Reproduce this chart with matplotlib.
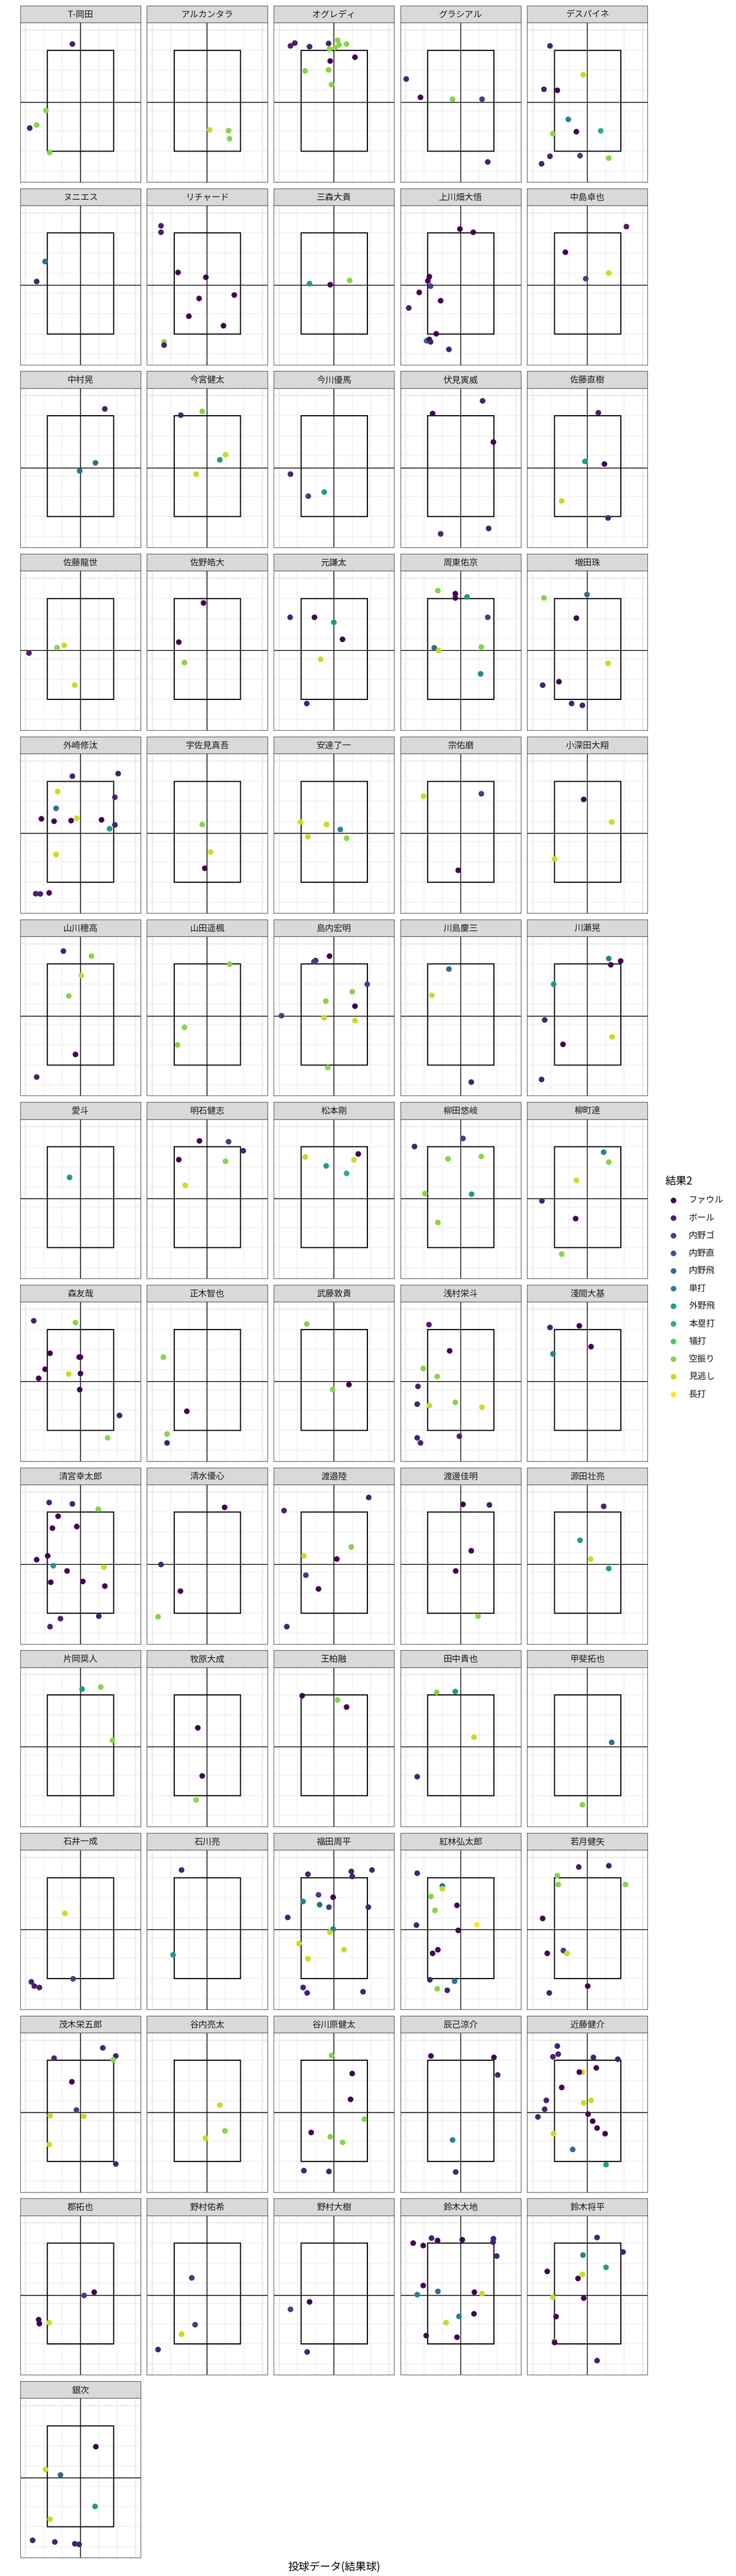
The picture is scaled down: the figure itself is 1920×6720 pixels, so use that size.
#!/usr/bin/env python3

import matplotlib
matplotlib.use('Agg')
import matplotlib.pyplot as plt
from matplotlib.patches import Rectangle
import numpy as np

plt.rcParams['font.family'] = ['Noto Sans CJK JP', 'DejaVu Sans']

# result categories (index used in pitch_res)
result_levels = ['ファウル', 'ボール', '内野ゴ', '内野直', '内野飛', '単打',
                 '外野飛', '本塁打', '犠打', '空振り', '見逃し', '長打']

players = [
  'T-岡田', 'アルカンタラ', 'オグレディ', 'グラシアル', 'デスパイネ',
  'ヌニエス', 'リチャード', '三森大貴', '上川畑大悟', '中島卓也',
  '中村晃', '今宮健太', '今川優馬', '伏見寅威', '佐藤直樹',
  '佐藤龍世', '佐野皓大', '元謙太', '周東佑京', '増田珠',
  '外崎修汰', '宇佐見真吾', '安達了一', '宗佑磨', '小深田大翔',
  '山川穂高', '山田遥楓', '島内宏明', '川島慶三', '川瀬晃',
  '愛斗', '明石健志', '松本剛', '柳田悠岐', '柳町達',
  '森友哉', '正木智也', '武藤敦貴', '浅村栄斗', '淺間大基',
  '清宮幸太郎', '清水優心', '渡邉陸', '渡邊佳明', '源田壮亮',
  '片岡奨人', '牧原大成', '王柏融', '田中貴也', '甲斐拓也',
  '石井一成', '石川亮', '福田周平', '紅林弘太郎', '若月健矢',
  '茂木栄五郎', '谷内亮太', '谷川原健太', '辰己涼介', '近藤健介',
  '郡拓也', '野村佑希', '野村大樹', '鈴木大地', '鈴木将平',
  '銀次',
]

# horizontal location of the final pitch, one list per player
pitch_x = [
  [-0.44, -1.88, -2.39, -2.77, -1.68],
  [0.13, 1.17, 1.22],
  [-2.37, -2.13, -1.33, -0.29, 0.20, 0.29, 0.69, -0.24, 0.07, 1.15, -0.20, -1.57, -0.29, -0.13],
  [-2.97, -2.19, -0.44, 1.17, 1.48],
  [-2.04, -0.22, -2.37, -1.64, -1.04, -0.60, -1.88, 0.73, -2.04, -0.40, -2.50, 1.17],
  [-1.93, -2.39],
  [-2.52, -2.52, -1.59, -0.07, -0.44, 1.48, -1.00, 0.89, -2.35, -2.35],
  [-1.33, -0.20, 0.86],
  [-0.04, 0.69, -1.71, -1.79, -1.64, -2.26, -1.09, -2.83, -1.33, -1.86, -1.71, -1.64, -0.64],
  [2.13, -1.20, 1.17, -0.09],
  [1.33, 0.82, -0.04],
  [-1.44, -0.27, 1.00, 0.69, -0.60],
  [-2.37, -1.40, -0.53],
  [1.20, -1.53, 1.79, -1.09, 1.53],
  [0.60, -0.13, 0.93, -1.40, 1.13],
  [-2.81, -1.28, -0.89, -0.31],
  [-0.20, -1.55, -1.24],
  [-2.39, -1.06, 0.00, 0.47, -0.73, -1.48],
  [-1.24, -0.29, -0.29, 0.35, 1.48, -1.44, -1.20, 1.13, 1.09],
  [-2.37, -0.02, -0.60, 1.13, -2.44, -1.55, -0.86, -0.27],
  [-0.44, 2.06, -1.24, 1.88, -1.33, -2.13, -1.44, -0.51, -0.20, 1.15, 1.88, 1.59, -1.33, -2.44, -2.19, -1.71],
  [-0.27, 0.18, -0.13],
  [-1.82, -0.40, 0.35, -1.42, 0.69],
  [-2.02, 1.13, -0.13],
  [-0.20, 1.33, -1.79],
  [-0.93, 0.60, 0.04, -0.64, -0.27, -2.39],
  [1.22, -1.24, -1.62],
  [-0.24, -1.00, -1.09, 1.82, 1.00, -0.44, 1.15, -2.86, -0.53, 1.15, -0.33],
  [-0.64, -1.57, 0.58],
  [1.17, 1.82, 1.28, -1.84, -2.33, 1.35, -1.33, -2.50],
  [-0.60],
  [-0.42, 1.17, 1.97, -1.55, 1.00, -1.20],
  [-1.57, 1.33, 1.09, -0.42, 0.69],
  [-2.52, 0.13, -0.69, 1.13, -1.95, 0.60, -1.24],
  [0.89, 1.17, -0.60, -2.48, -0.64, -1.40],
  [-2.55, -0.27, -1.66, 0.00, -0.07, -1.93, -0.64, 0.00, -2.28, -0.04, 2.13, 1.48],
  [-2.39, -1.11, -2.19, -2.19],
  [-1.48, -0.07, 0.82],
  [-1.73, -0.60, -2.04, -1.28, -2.33, -2.37, -1.71, -0.29, 1.17, -2.37, -2.19, -0.07],
  [-2.04, -0.44, 0.20, -1.88],
  [-1.71, -0.44, 0.97, -1.22, -1.53, -0.20, -1.79, -2.39, -1.48, 1.28, -0.73, -1.62, 0.13, 1.33, 1.00, -1.09, -1.66],
  [0.95, -2.52, -1.46, -2.68],
  [1.90, -2.72, 0.95, -1.64, 0.16, -1.53, -0.84, -2.57],
  [0.13, 1.57, 0.58, -0.27, 0.95],
  [0.89, -0.40, 0.18, 1.17],
  [0.09, 1.11, 1.75],
  [-0.51, -0.27, -0.60],
  [-1.73, 0.20, 0.69],
  [-1.31, -0.29, 0.73, -2.37],
  [1.33, -0.27],
  [-0.84, -0.40, -2.68, -2.52, -2.24],
  [-1.40, -1.86],
  [-1.42, 0.95, 2.08, 1.00, -0.84, -0.04, -1.68, -0.78, -0.27, 1.88, -2.52, -0.04, -0.22, -1.90, 0.55, -1.42, -1.68, -1.46, 1.59],
  [-2.37, -1.00, -1.00, -1.62, -1.40, -0.20, -2.41, 0.89, -0.13, -1.53, -1.24, -1.68, -0.33, -1.28, -0.73],
  [-0.47, 1.17, -1.64, -1.59, 2.08, -2.44, -2.19, -1.31, -1.11, 0.02, -2.08],
  [-1.44, 1.22, 1.93, 1.79, -0.47, -0.22, -1.66, 0.18, -1.71, 1.93],
  [0.69, 0.97, -0.09],
  [-0.13, 1.00, 0.91, 1.66, -1.24, -0.20, 0.47, -1.64, -0.27],
  [-1.62, 1.82, 2.02, -0.44, -0.27],
  [-1.64, -1.59, -1.88, 0.33, 1.66, 0.49, -0.27, -0.44, -1.40, -2.24, 0.20, -0.20, -2.33, -2.70, 0.04, 0.29, 0.53, 0.97, -1.84, -0.80, 1.02],
  [0.75, 0.20, -2.28, -2.24, -1.71],
  [-0.84, -0.66, -1.40, -2.68],
  [-1.33, -2.37, -1.46],
  [-2.59, -2.04, -1.59, -1.26, 0.09, 1.79, 1.77, 1.97, -2.04, -1.24, -2.37, 0.75, 1.17, -0.09, 0.73, -0.80, -1.88, -0.20],
  [0.53, 1.95, -0.24, 1.02, -2.19, -0.27, -0.51, -1.88, -0.20, -1.71, -1.79, -1.79, 0.53],
  [0.84, -1.90, -1.09, 0.80, -1.66, -2.61, -1.40, -0.31, -0.07],
]

# vertical location of the final pitch
pitch_y = [
  [6.30, 3.01, 2.29, 2.14, 0.93],
  [2.05, 2.01, 1.61],
  [6.21, 6.35, 6.17, 6.33, 6.49, 6.26, 6.30, 6.05, 6.12, 5.65, 5.46, 4.97, 5.02, 4.29],
  [4.57, 3.66, 3.57, 3.57, 0.46],
  [6.21, 4.78, 4.06, 4.01, 2.57, 1.96, 1.86, 2.00, 0.74, 0.77, 0.37, 0.65],
  [4.58, 3.59],
  [6.35, 6.03, 4.04, 3.80, 2.75, 2.92, 1.87, 1.40, 0.60, 0.44],
  [3.48, 3.43, 3.64],
  [6.19, 6.03, 3.83, 3.62, 3.36, 3.05, 2.64, 2.28, 1.00, 0.65, 0.72, 0.60, 0.23],
  [6.31, 5.04, 4.01, 3.73],
  [6.33, 3.66, 3.26],
  [6.02, 6.21, 4.06, 3.81, 3.10],
  [3.10, 2.01, 2.21],
  [6.73, 6.10, 4.69, 0.14, 0.41],
  [6.14, 3.73, 3.60, 1.77, 0.93],
  [3.29, 3.55, 3.67, 1.70],
  [5.77, 3.83, 2.82],
  [5.06, 5.06, 4.81, 3.97, 2.98, 0.79],
  [6.38, 6.23, 6.02, 6.07, 5.06, 3.55, 3.41, 3.59, 2.26],
  [6.02, 6.19, 5.02, 2.78, 1.70, 1.87, 0.79, 0.70],
  [6.24, 6.37, 5.48, 5.20, 4.65, 4.13, 4.01, 4.04, 4.16, 4.08, 3.83, 3.64, 2.36, 0.42, 0.41, 0.46],
  [3.85, 2.49, 1.68],
  [3.97, 3.85, 3.60, 3.24, 3.17],
  [5.25, 5.37, 1.58],
  [5.09, 3.97, 2.14],
  [6.63, 6.38, 5.42, 4.41, 1.51, 0.39],
  [5.98, 2.85, 1.98],
  [6.38, 6.16, 6.10, 4.99, 4.62, 4.15, 3.90, 3.43, 3.33, 3.19, 0.86],
  [5.74, 4.44, 0.14],
  [6.26, 6.14, 5.95, 4.99, 3.22, 2.38, 2.01, 0.27],
  [4.48],
  [6.28, 6.24, 5.79, 5.35, 5.27, 4.08],
  [5.48, 5.63, 5.34, 5.04, 4.67],
  [6.00, 6.40, 5.39, 5.51, 3.67, 3.64, 2.24],
  [5.72, 5.23, 4.32, 3.31, 2.43, 0.67],
  [6.42, 6.33, 4.81, 4.62, 4.62, 4.02, 3.78, 3.81, 3.57, 3.01, 1.73, 0.62],
  [4.62, 1.94, 0.81, 0.37],
  [6.26, 3.01, 3.26],
  [6.23, 4.93, 4.06, 3.66, 3.17, 2.29, 2.22, 2.38, 2.14, 0.62, 0.37, 0.70],
  [6.09, 6.17, 5.14, 4.78],
  [6.47, 6.40, 6.14, 5.79, 5.20, 5.28, 3.83, 3.64, 3.34, 3.27, 3.08, 2.52, 2.56, 2.33, 0.84, 0.72, 0.32],
  [6.23, 3.40, 2.08, 0.81],
  [6.72, 6.07, 4.27, 3.83, 3.67, 2.87, 2.19, 0.32],
  [6.38, 6.35, 4.08, 3.08, 0.84],
  [6.28, 4.60, 3.67, 3.20],
  [6.28, 6.38, 3.74],
  [4.36, 1.98, 0.79],
  [5.95, 5.74, 5.39],
  [6.12, 6.16, 3.90, 1.94],
  [3.64, 0.55],
  [4.22, 0.98, 0.83, 0.62, 0.55],
  [6.37, 2.17],
  [6.16, 6.30, 6.37, 6.05, 5.14, 5.02, 4.81, 4.65, 4.53, 4.53, 4.02, 3.45, 3.29, 2.73, 2.42, 1.98, 0.55, 0.28, 0.34],
  [6.21, 5.58, 5.44, 5.06, 4.37, 4.62, 3.64, 3.66, 3.38, 2.24, 2.42, 0.93, 0.86, 0.49, 0.41],
  [6.52, 6.58, 6.09, 5.65, 5.65, 3.97, 2.24, 2.38, 2.24, 0.62, 0.28],
  [6.10, 6.61, 6.21, 6.02, 4.93, 3.53, 3.26, 3.22, 1.82, 0.86],
  [3.78, 2.50, 2.14],
  [6.24, 5.34, 4.06, 3.08, 2.42, 2.21, 1.93, 0.53, 0.49],
  [6.21, 6.14, 5.27, 2.05, 0.46],
  [6.70, 6.30, 6.17, 6.14, 6.05, 5.62, 5.41, 5.41, 4.65, 4.01, 4.01, 3.88, 3.57, 3.19, 3.33, 2.98, 2.64, 2.36, 2.36, 1.58, 0.83],
  [3.56, 3.40, 2.20, 2.00, 2.05],
  [4.27, 1.95, 1.48, 0.72],
  [3.08, 2.71, 0.60],
  [5.99, 5.87, 6.24, 6.12, 6.16, 6.21, 6.04, 5.35, 3.89, 3.60, 3.44, 3.56, 3.49, 2.36, 2.49, 2.05, 1.41, 1.33],
  [6.27, 5.55, 5.40, 4.79, 4.59, 4.44, 4.24, 3.31, 3.27, 2.35, 1.13, 1.07, 0.17],
  [4.96, 3.83, 3.56, 2.00, 1.37, 0.32, 0.24, 0.15, 0.12],
]

# result of the pitch (index into result_levels)
pitch_res = [
  [1, 9, 9, 1, 9],
  [10, 9, 9],
  [1, 1, 1, 1, 9, 9, 9, 9, 9, 0, 0, 9, 9, 9],
  [1, 0, 9, 2, 1],
  [1, 10, 1, 0, 5, 0, 9, 7, 1, 2, 1, 9],
  [4, 1],
  [1, 1, 0, 0, 0, 0, 0, 0, 9, 1],
  [6, 0, 9],
  [0, 0, 0, 0, 2, 0, 0, 1, 0, 4, 0, 1, 1],
  [1, 0, 10, 2],
  [1, 4, 4],
  [1, 9, 10, 6, 10],
  [1, 2, 6],
  [1, 0, 0, 1, 1],
  [1, 6, 0, 10, 1],
  [1, 9, 10, 10],
  [0, 0, 9],
  [1, 0, 6, 0, 10, 1],
  [9, 0, 0, 6, 2, 4, 10, 9, 5],
  [9, 4, 0, 10, 1, 0, 1, 1],
  [1, 1, 10, 1, 4, 0, 0, 0, 10, 0, 1, 6, 10, 1, 1, 0],
  [9, 10, 0],
  [10, 10, 5, 10, 9],
  [10, 2, 0],
  [0, 10, 10],
  [1, 9, 10, 9, 0, 1],
  [9, 9, 9],
  [0, 1, 2, 2, 9, 9, 0, 2, 10, 10, 9],
  [4, 10, 1],
  [5, 0, 0, 6, 1, 10, 0, 1],
  [6],
  [0, 2, 1, 0, 9, 10],
  [10, 0, 10, 6, 7],
  [1, 2, 9, 9, 9, 6, 9],
  [5, 9, 10, 1, 0, 9],
  [1, 9, 0, 0, 0, 0, 10, 0, 0, 0, 1, 9],
  [9, 0, 9, 1],
  [9, 9, 0],
  [1, 0, 9, 9, 1, 1, 10, 9, 10, 1, 1, 1],
  [1, 0, 0, 5],
  [1, 1, 9, 0, 0, 0, 0, 0, 6, 10, 0, 0, 0, 0, 1, 1, 1],
  [0, 1, 0, 9],
  [1, 1, 9, 10, 0, 2, 0, 1],
  [0, 1, 0, 0, 9],
  [1, 6, 10, 6],
  [6, 9, 9],
  [0, 0, 9],
  [0, 9, 0],
  [9, 6, 10, 1],
  [4, 9],
  [10, 2, 1, 1, 1],
  [1, 6],
  [1, 1, 1, 1, 2, 0, 5, 4, 2, 1, 1, 5, 10, 10, 10, 10, 1, 1, 1],
  [1, 4, 10, 9, 9, 0, 1, 11, 0, 0, 0, 1, 4, 9, 1],
  [1, 1, 9, 9, 9, 0, 0, 2, 10, 0, 1],
  [1, 1, 1, 9, 0, 2, 10, 10, 10, 1],
  [10, 9, 10],
  [9, 0, 0, 9, 0, 9, 9, 1, 1],
  [0, 0, 1, 5, 1],
  [1, 1, 1, 1, 1, 0, 10, 0, 0, 1, 10, 10, 1, 1, 0, 0, 0, 0, 10, 4, 6],
  [0, 2, 0, 0, 10],
  [2, 2, 10, 1],
  [0, 2, 1],
  [0, 0, 1, 0, 0, 1, 1, 1, 0, 4, 5, 0, 10, 5, 0, 10, 0, 0],
  [1, 1, 5, 6, 0, 10, 0, 10, 0, 0, 9, 0, 1],
  [0, 10, 4, 6, 10, 1, 1, 1, 1],
]

# strike zone and reference lines
zone_x = (-1.81, 1.81)
zone_y = (1.0, 6.0)
cross_y = 3.41

W, H = 1920, 6720
fig = plt.figure(figsize=(W / 100, H / 100), dpi=100)
colors = plt.cm.viridis(np.linspace(0, 1, len(result_levels)))

ncol = 5
col_pitch, row_pitch = 330.6, 476.7
panel_w, strip_h, panel_h = 314.3, 44.3, 415.7
x0, y0 = 52.7, 15.0

for i, name in enumerate(players):
  r, c = divmod(i, ncol)
  left = x0 + c * col_pitch
  top = y0 + r * row_pitch

  sax = fig.add_axes([left / W, 1 - (top + strip_h) / H, panel_w / W, strip_h / H])
  sax.set_facecolor('#D9D9D9')
  sax.set_xticks([])
  sax.set_yticks([])
  for s in sax.spines.values():
    s.set_color('#333333')
    s.set_linewidth(0.9)
  sax.text(0.5, 0.47, name, ha='center', va='center', fontsize=16.3,
           color='#1A1A1A', transform=sax.transAxes)

  ax = fig.add_axes([left / W, 1 - (top + strip_h + panel_h) / H, panel_w / W, panel_h / H])
  ax.set_xlim(-3.288, 3.288)
  ax.set_ylim(-0.537, 7.357)
  ax.set_xticks(np.arange(-3, 4))
  ax.set_yticks(np.arange(0, 8))
  ax.grid(True, color='#EBEBEB', linewidth=1.2, zorder=0)
  for gx in (-3, 3):
    ax.axvline(gx, color='#EBEBEB', linewidth=2.4, zorder=0)
  ax.axhline(7, color='#EBEBEB', linewidth=2.4, zorder=0)
  ax.set_axisbelow(True)
  ax.tick_params(length=0, labelbottom=False, labelleft=False)
  for s in ax.spines.values():
    s.set_color('#333333')
    s.set_linewidth(0.9)

  ax.add_patch(Rectangle((zone_x[0], zone_y[0]), zone_x[1] - zone_x[0],
                         zone_y[1] - zone_y[0], fill=False, edgecolor='black',
                         linewidth=2.1, zorder=2))
  ax.axvline(0, color='black', linewidth=1.4, zorder=2)
  ax.axhline(cross_y, color='black', linewidth=1.4, zorder=2)

  ax.scatter(pitch_x[i], pitch_y[i], s=112, c=colors[pitch_res[i]],
             linewidths=0, zorder=3)

# legend
lax = fig.add_axes([1720 / W, 1 - 3660 / H, 200 / W, 610 / H])
lax.set_xlim(0, 200)
lax.set_ylim(11.485, -1.776)
lax.axis('off')
keys = np.arange(len(result_levels))
lax.scatter(np.full(len(keys), 37), keys, s=112, c=colors, linewidths=0)
for k, lab in zip(keys, result_levels):
  lax.text(77, k, lab, ha='left', va='center', fontsize=16.3, color='#1A1A1A')
lax.text(15, -1.08, '結果2', ha='left', va='center', fontsize=20, color='#000000')

fig.text(871 / W, 1 - 6697 / H, '投球データ(結果球)', ha='center', va='center',
         fontsize=20, color='#000000')

fig.savefig('out.png', dpi=100, facecolor='white')
